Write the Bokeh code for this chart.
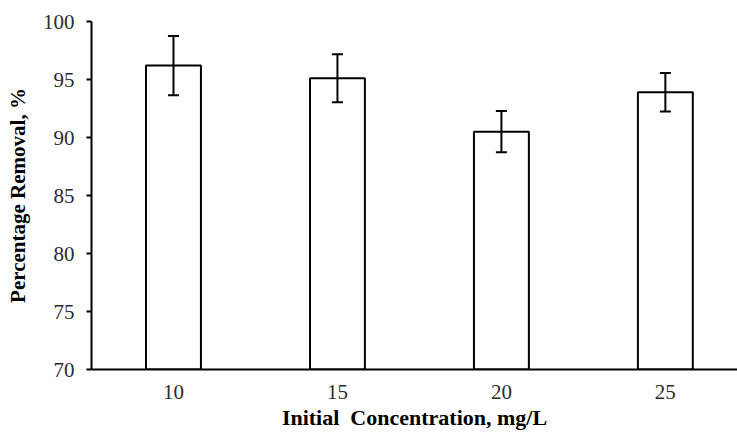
from bokeh.plotting import figure
from bokeh.models import Range1d, FixedTicker, ColumnDataSource, Whisker, TeeHead
from bokeh.embed import file_html
from bokeh.resources import INLINE

categories = ["10", "15", "20", "25"]
removal = [96.2, 95.1, 90.5, 93.9]
error = [2.55, 2.07, 1.78, 1.65]

x = list(range(len(categories)))
src = ColumnDataSource(dict(
    x=x, top=removal,
    upper=[r + e for r, e in zip(removal, error)],
    lower=[r - e for r, e in zip(removal, error)],
))

p = figure(width=737, height=432, output_backend="svg", toolbar_location=None,
           x_range=Range1d(-0.5, 3.44), y_range=Range1d(70, 100),
           min_border_left=91, min_border_right=0, min_border_top=21, min_border_bottom=63)
p.outline_line_color = None
p.grid.visible = False
p.background_fill_color = "white"
p.border_fill_color = "white"

p.vbar(x="x", top="top", bottom=70, width=0.335, source=src,
       fill_color="white", line_color="black", line_width=2)

w = Whisker(base="x", upper="upper", lower="lower", source=src,
            line_color="black", line_width=2, level="overlay",
            upper_head=TeeHead(size=11, line_color="black", line_width=2),
            lower_head=TeeHead(size=11, line_color="black", line_width=2))
p.add_layout(w)

font = "Liberation Serif"
p.xaxis.ticker = FixedTicker(ticks=x)
p.xaxis.major_label_overrides = {i: c for i, c in enumerate(categories)}
p.yaxis.ticker = FixedTicker(ticks=[70, 75, 80, 85, 90, 95, 100])

for ax in (p.xaxis, p.yaxis):
    ax.axis_line_color = "black"
    ax.axis_line_width = 2
    ax.major_label_text_font = font
    ax.major_label_text_font_size = "21px"
    ax.major_label_text_color = "#2b2b2b"
    ax.axis_label_text_font = font
    ax.axis_label_text_font_size = "21px"
    ax.axis_label_text_font_style = "bold"
    ax.axis_label_text_color = "black"
    ax.minor_tick_line_color = None

p.xaxis.major_tick_line_color = None
p.xaxis.major_tick_out = 0
p.xaxis.major_label_standoff = 15
p.xaxis.axis_label = "Initial\u00a0 Concentration, mg/L"
p.xaxis.axis_label_text_font_size = "22px"
p.xaxis.axis_label_standoff = 3

p.yaxis.major_tick_line_color = "black"
p.yaxis.major_tick_line_width = 2
p.yaxis.major_tick_out = 5
p.yaxis.major_tick_in = 0
p.yaxis.major_label_standoff = 12
p.yaxis.axis_label = "Percentage Removal, %"
p.yaxis.axis_label_standoff = 10

open("out.html", "w").write(file_html(p, INLINE))
